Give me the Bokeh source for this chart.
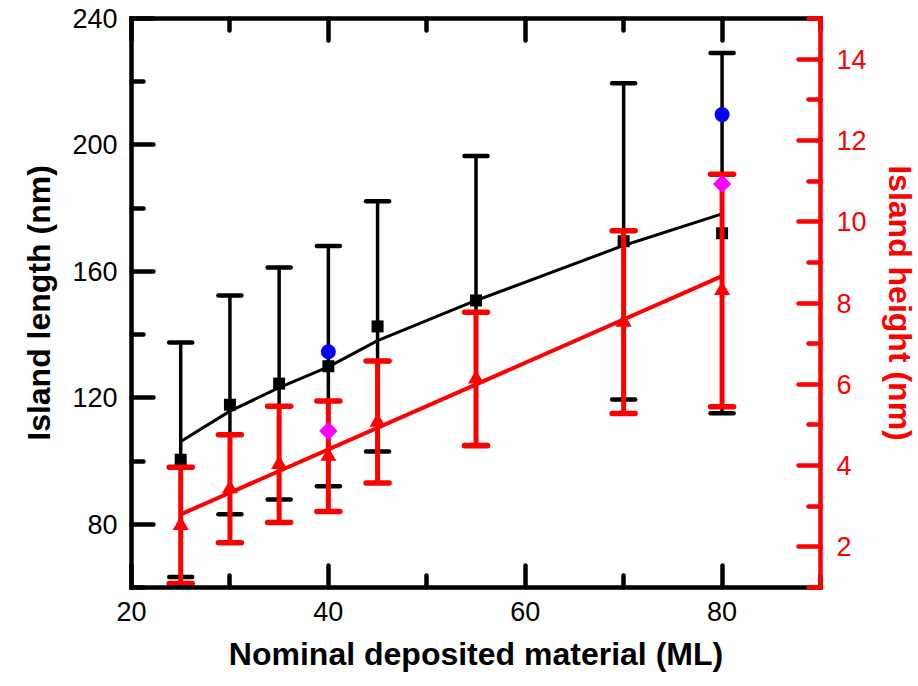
import numpy as np
from bokeh.plotting import figure
from bokeh.models import Range1d, LinearAxis, FixedTicker, ColumnDataSource
from bokeh.embed import file_html
from bokeh.resources import INLINE

# ---------------- data ----------------
coverage = [25, 30, 35, 40, 45, 55, 70, 80]            # Nominal deposited material (ML)
length_mean = [100.4, 117.8, 124.5, 130.0, 142.6, 150.8, 169.5, 172.1]   # Island length (nm)
length_err = [37.1, 34.6, 36.7, 38.0, 39.6, 45.7, 50.0, 57.0]
height_mean = [2.53, 3.43, 4.03, 4.23, 5.07, 6.13, 7.53, 8.31]          # Island height (nm)
height_err = [1.43, 1.33, 1.43, 1.36, 1.50, 1.64, 2.25, 2.86]

blue_x = [40, 80]
blue_length = [134.6, 209.6]
magenta_x = [40, 80]
magenta_height = [4.85, 10.93]

length_fit_x = [25, 30, 35, 40, 45, 55, 70, 80]
length_fit_y = [106.2, 115.8, 123.2, 129.8, 138.1, 150.8, 168.2, 178.2]
height_fit_x = [25, 80]
height_fit_y = [2.80, 8.66]

x_ticks = [20, 40, 60, 80]
x_minor = [30, 50, 70, 90]
left_ticks = [80, 120, 160, 200, 240]
left_minor = [60, 100, 140, 180, 220]
right_ticks = [2, 4, 6, 8, 10, 12, 14]
right_minor = [1, 3, 5, 7, 9, 11, 13, 15]

FONT = "Liberation Sans"
RED = "#FF0000"

# ---------------- figure ----------------
p = figure(frame_width=689, frame_height=569,
           min_border_left=131, min_border_right=98,
           min_border_top=18, min_border_bottom=99,
           x_range=Range1d(20, 90), y_range=Range1d(60, 240),
           output_backend="svg", toolbar_location=None)
p.extra_y_ranges = {"right": Range1d(1, 15)}
p.xgrid.visible = False
p.ygrid.visible = False
p.outline_line_color = None
p.background_fill_color = "white"
p.border_fill_color = "white"


def style_axis(ax, color, ticks, minor, labels=True):
    ax.ticker = FixedTicker(ticks=ticks, minor_ticks=minor)
    ax.axis_line_color = color
    ax.axis_line_width = 4.5
    ax.axis_line_cap = "square"
    ax.major_tick_line_color = color
    ax.major_tick_line_width = 4.5
    ax.major_tick_line_cap = "round"
    ax.minor_tick_line_color = color
    ax.minor_tick_line_width = 4.5
    ax.minor_tick_line_cap = "round"
    ax.major_tick_in = 22
    ax.major_tick_out = 0
    ax.minor_tick_in = 12
    ax.minor_tick_out = 0
    ax.major_label_text_font = FONT
    if labels:
        ax.major_label_text_color = color
        ax.major_label_text_font_size = "27px"
    else:
        ax.major_label_text_color = None
        ax.major_label_text_font_size = "8px"
    ax.axis_label_text_font = FONT
    ax.axis_label_text_font_style = "bold"
    ax.axis_label_text_font_size = "32px"
    ax.axis_label_text_color = color


xa = p.xaxis[0]
style_axis(xa, "black", x_ticks, x_minor)
xa.axis_label = "Nominal deposited material (ML)"
xa.major_label_standoff = 14
xa.axis_label_standoff = 12

ya = p.yaxis[0]
style_axis(ya, "black", left_ticks, left_minor)
ya.axis_label = "Island length (nm)"
ya.major_label_standoff = 14
ya.axis_label_standoff = 12

top = LinearAxis()
style_axis(top, "black", x_ticks, x_minor, labels=False)
top.major_label_standoff = 0
p.add_layout(top, "above")

ra = LinearAxis(y_range_name="right")
style_axis(ra, RED, right_ticks, right_minor)
ra.axis_label = "Island height (nm)"
ra.major_label_standoff = 16
ra.axis_label_standoff = 12
p.add_layout(ra, "right")

# ---------------- data sources ----------------
x = np.array(coverage, dtype=float)
Lm = np.array(length_mean)
Le = np.array(length_err)
Hm = np.array(height_mean)
He = np.array(height_err)
src_len = ColumnDataSource(dict(x=x, m=Lm, lo=Lm - Le, hi=Lm + Le))
src_hgt = ColumnDataSource(dict(x=x, m=Hm, lo=Hm - He, hi=Hm + He))

# black: island length
p.segment(x0="x", y0="lo", x1="x", y1="hi", source=src_len, line_color="black", line_width=3.5)
p.scatter("x", "lo", source=src_len, marker="dash", size=23, line_color="black", line_width=4.5, line_cap="round")
p.scatter("x", "hi", source=src_len, marker="dash", size=23, line_color="black", line_width=4.5, line_cap="round")
p.scatter("x", "m", source=src_len, marker="square", size=12, fill_color="black", line_color="black", line_width=0)
p.line(length_fit_x, length_fit_y, line_color="black", line_width=3)

# red: island height
p.segment(x0="x", y0="lo", x1="x", y1="hi", source=src_hgt, line_color=RED, line_width=5, y_range_name="right")
p.scatter("x", "lo", source=src_hgt, marker="dash", size=23, line_color=RED, line_width=5.5, line_cap="round", y_range_name="right")
p.scatter("x", "hi", source=src_hgt, marker="dash", size=23, line_color=RED, line_width=5.5, line_cap="round", y_range_name="right")
p.scatter("x", "m", source=src_hgt, marker="triangle", size=16, fill_color=RED, line_color=RED, line_width=0, y_range_name="right")
p.line(height_fit_x, height_fit_y, line_color=RED, line_width=4, y_range_name="right")

# extra points
p.scatter(blue_x, blue_length, marker="circle", size=15, fill_color="#0000FF", line_color="#0000FF", line_width=0)
p.scatter(magenta_x, magenta_height, marker="square", angle=np.pi / 4, size=13,
          fill_color="#FF00FF", line_color="#FF00FF", line_width=0, y_range_name="right")

open("out.html", "w").write(file_html(p, INLINE))
